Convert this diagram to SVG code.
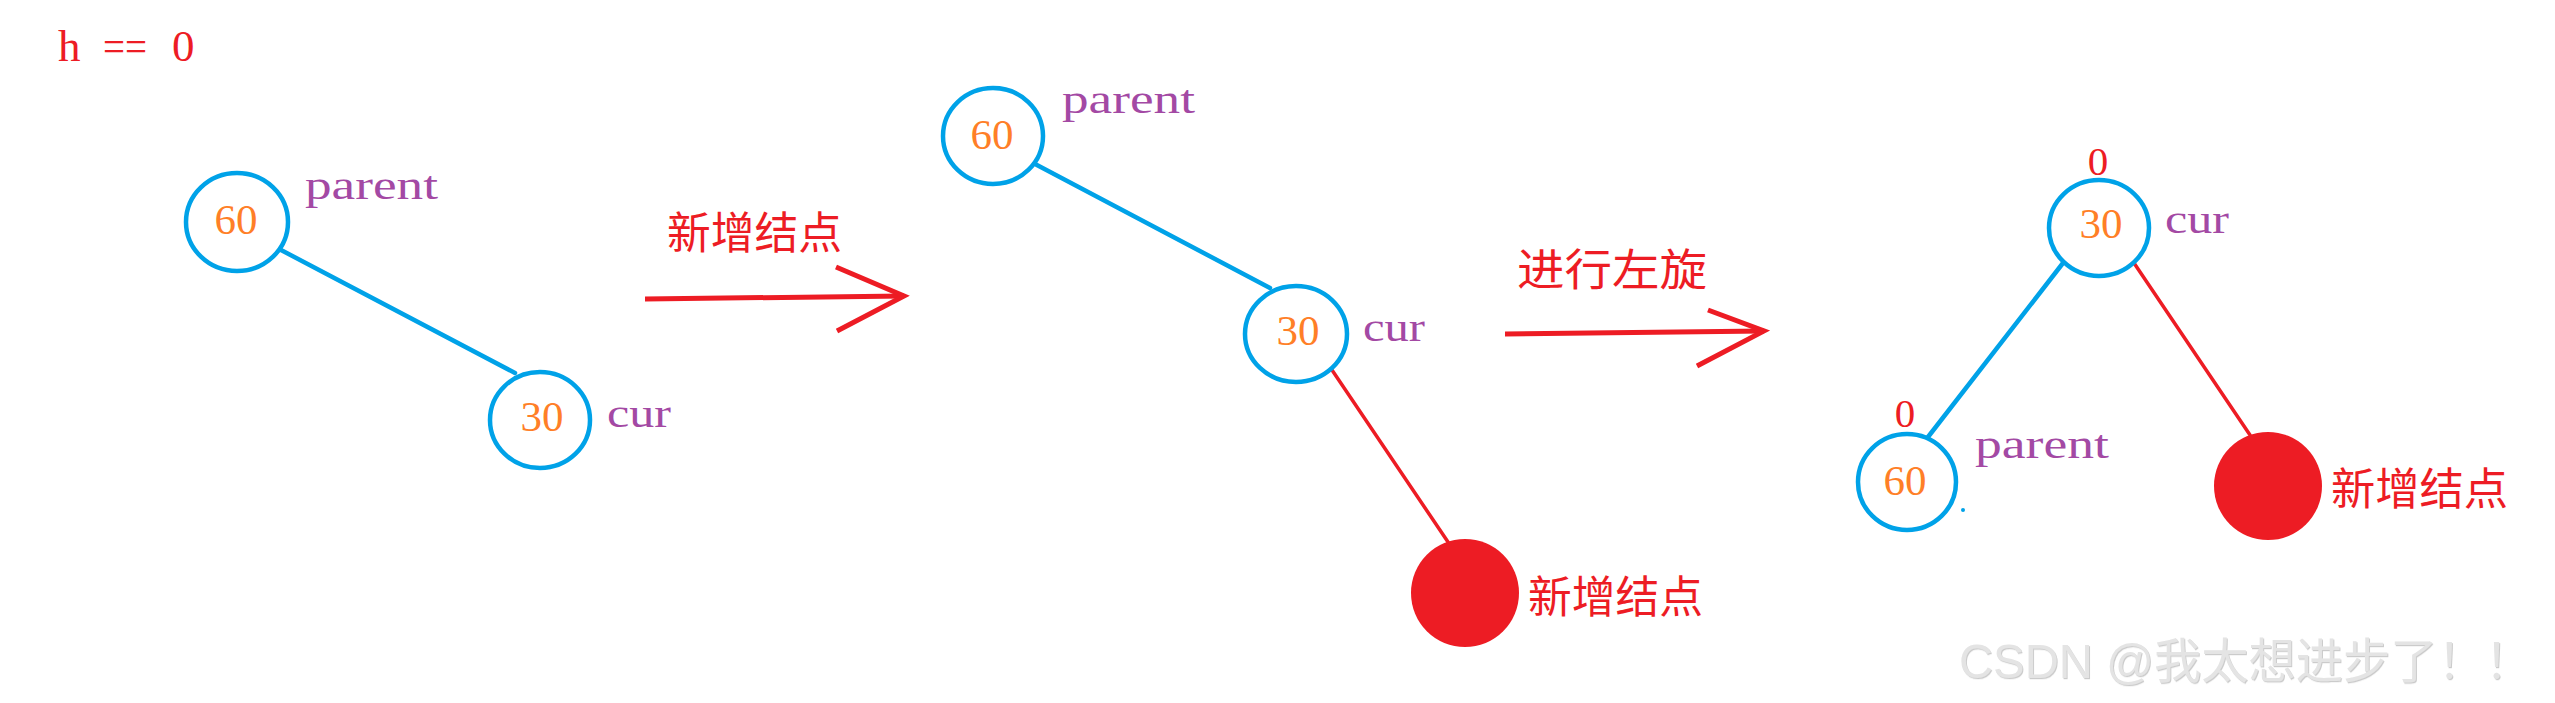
<svg xmlns="http://www.w3.org/2000/svg" width="2555" height="703" viewBox="0 0 2555 703">
<style>
.bg{fill:#ffffff}
.node{fill:none;stroke:#00A2E8;stroke-width:4.5}
.newnode{fill:#ED1C24;stroke:none}
.num{font-family:"Liberation Serif",serif;font-size:43px;fill:#FF7F27;text-anchor:middle}
.tag{font-family:"Liberation Serif",serif;font-size:41px;fill:#A349A4}
.red{font-family:"Liberation Serif",serif;fill:#ED1C24}
.cjk{font-family:"Liberation Serif","Noto Sans CJK SC",serif;font-size:44px;fill:#ED1C24}
.blue-edge{stroke:#00A2E8;stroke-width:4.5;fill:none;stroke-linecap:round}
.red-edge{stroke:#ED1C24;stroke-width:3.5;fill:none;stroke-linecap:round}
.arrow{stroke:#ED1C24;stroke-width:5;fill:none;stroke-linecap:butt;stroke-linejoin:miter}
.wm{font-family:"Liberation Sans","Noto Sans CJK SC",sans-serif;font-size:48px;fill:#e4e4e4}
</style>
<defs>
<filter id="emboss" x="-10%" y="-40%" width="120%" height="180%">
<feDropShadow dx="1" dy="1.2" stdDeviation="0.6" flood-color="#b5b5b5" flood-opacity="0.7"/>
</filter>
</defs>
<rect class="bg" x="0" y="0" width="2555" height="703"/>

<g id="title">
<text class="red" font-size="45" x="58" y="61">h</text>
<text class="red" font-size="45" x="103" y="61" textLength="44" lengthAdjust="spacingAndGlyphs">==</text>
<text class="red" font-size="45" x="172" y="61">0</text>
</g>

<g id="connectors">
<line class="blue-edge" x1="281" y1="250" x2="515" y2="373"/>
<line class="blue-edge" x1="1035" y1="164" x2="1270" y2="288"/>
<line class="red-edge" x1="1332" y1="370" x2="1448" y2="542"/>
<line class="blue-edge" x1="2063" y1="263" x2="1928" y2="437"/>
<line class="red-edge" x1="2134" y1="263" x2="2250" y2="435"/>
</g>

<g id="arrow1">
<line class="arrow" x1="645" y1="299" x2="904" y2="296"/>
<polyline class="arrow" points="836,267 904,296 837,331"/>
<text class="cjk" x="667" y="249" textLength="175" lengthAdjust="spacingAndGlyphs">新增结点</text>
</g>

<g id="arrow2">
<line class="arrow" x1="1505" y1="334" x2="1764" y2="331"/>
<polyline class="arrow" points="1708,310 1764,331 1697,366"/>
<text class="cjk" font-size="46" x="1517" y="286" textLength="190" lengthAdjust="spacingAndGlyphs">进行左旋</text>
</g>

<g id="t1-node60">
<ellipse class="node" cx="237" cy="222" rx="51" ry="49"/>
<text class="num" x="236" y="234">60</text>
<text class="tag" x="305" y="199" textLength="133" lengthAdjust="spacingAndGlyphs">parent</text>
</g>
<g id="t1-node30">
<ellipse class="node" cx="540" cy="420" rx="50" ry="48"/>
<text class="num" x="542" y="431">30</text>
<text class="tag" x="607" y="427" textLength="64" lengthAdjust="spacingAndGlyphs">cur</text>
</g>

<g id="t2-node60">
<ellipse class="node" cx="993" cy="136" rx="50" ry="48"/>
<text class="num" x="992" y="149">60</text>
<text class="tag" x="1062" y="113" textLength="133" lengthAdjust="spacingAndGlyphs">parent</text>
</g>
<g id="t2-node30">
<ellipse class="node" cx="1296" cy="334" rx="51" ry="48"/>
<text class="num" x="1298" y="345">30</text>
<text class="tag" x="1363" y="341" textLength="62" lengthAdjust="spacingAndGlyphs">cur</text>
</g>
<g id="t2-new">
<ellipse class="newnode" cx="1465" cy="593" rx="54" ry="54"/>
<text class="cjk" x="1528" y="613" textLength="175" lengthAdjust="spacingAndGlyphs">新增结点</text>
</g>

<g id="t3-node30">
<ellipse class="node" cx="2099" cy="228" rx="50" ry="48"/>
<text class="num" x="2101" y="238">30</text>
<text class="tag" x="2165" y="233" textLength="64" lengthAdjust="spacingAndGlyphs">cur</text>
<text class="red" font-size="41" text-anchor="middle" x="2098" y="175">0</text>
</g>
<g id="t3-node60">
<ellipse class="node" cx="1907" cy="482" rx="49" ry="48"/>
<text class="num" x="1905" y="495">60</text>
<text class="tag" x="1975" y="458" textLength="134" lengthAdjust="spacingAndGlyphs">parent</text>
<text class="red" font-size="41" text-anchor="middle" x="1905" y="427">0</text>
<circle cx="1963" cy="510" r="2" fill="#00A2E8"/>
</g>
<g id="t3-new">
<ellipse class="newnode" cx="2268" cy="486" rx="54" ry="54"/>
<text class="cjk" x="2331" y="505" textLength="177" lengthAdjust="spacingAndGlyphs">新增结点</text>
</g>

<g id="watermark">
<text class="wm" filter="url(#emboss)" x="1959" y="678" textLength="573" lengthAdjust="spacingAndGlyphs">CSDN @我太想进步了！！</text>
</g>
</svg>
